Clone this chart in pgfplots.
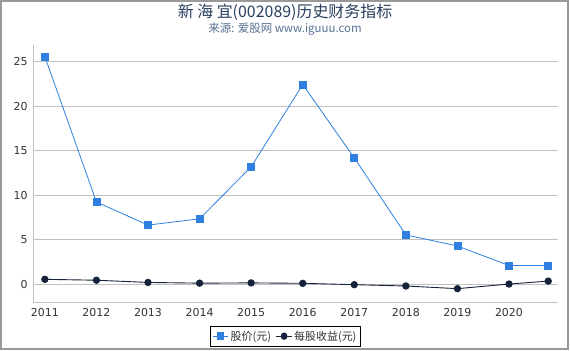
\documentclass[border=0pt]{standalone}
\usepackage{pgfplots}
\pgfplotsset{compat=1.18}
\usepackage{fontspec}
\setmainfont{DejaVu Sans}
\newfontfamily\cjk{Noto Sans CJK SC}
\definecolor{titlec}{HTML}{2A3F5F}
\definecolor{subc}{HTML}{5A7396}
\definecolor{priceC}{HTML}{2F80E0}
\definecolor{epsC}{HTML}{15233A}
\definecolor{gridc}{HTML}{C0C0C0}
\definecolor{tickc}{HTML}{333333}
\begin{document}
\begin{tikzpicture}[x=1bp,y=1bp]
\fill[white] (0,0) rectangle (570,350);
\draw[gray!80, line width=2bp] (1,1) rectangle (568,349);
\node[text=titlec, font=\fontsize{16}{18}\selectfont\cjk] at (285,338) {新 海 宜(002089)历史财务指标};
\node[text=subc, font=\fontsize{11.5}{13}\selectfont\cjk] at (285,321) {来源: 爱股网 www.iguuu.com};
\begin{axis}[
  at={(33bp,48bp)}, anchor=south west,
  scale only axis, width=525bp, height=257bp,
  xmin=2010.77, xmax=2020.95, ymin=-2, ymax=26.9,
  xtick={2011,...,2020},
  xticklabels={2011,2012,2013,2014,2015,2016,2017,2018,2019,2020},
  ytick={0,5,10,15,20,25},
  ymajorgrids, grid style={gridc, line width=0.8bp},
  axis x line*=bottom, axis y line*=left,
  axis line style={gridc, line width=0.8bp},
  major tick length=0pt,
  tick label style={text=tickc, font=\fontsize{11}{12}\selectfont},
  xticklabel style={yshift=-3bp},
  yticklabel style={xshift=-2bp},
  /pgf/number format/assume math mode=true,
  /pgf/number format/1000 sep={},
  legend style={at={(0.481,0)}, anchor=north, yshift=-24bp, draw=black, line width=0.6bp,
    font=\fontsize{11}{12}\selectfont\cjk, text=tickc, legend columns=2,
    inner xsep=2bp, inner ysep=2.5bp, /tikz/every even column/.append style={column sep=3bp}},
  legend image post style={xscale=0.9},
  legend cell align=left,
]
\addplot[color=priceC, line width=0.8bp, mark=square*, mark size=3.5bp, mark options={fill=priceC, draw=priceC}]
coordinates {(2011,25.6) (2012,9.25) (2013,6.65) (2014,7.35) (2015,13.2) (2016,22.45) (2017,14.2) (2018,5.55) (2019,4.3) (2020,2.1) (2020.76,2.1)};
\addlegendentry{股价(元)}
\addplot[color=epsC, line width=0.9bp, mark=*, mark size=3.2bp, mark options={fill=epsC, draw=epsC}]
coordinates {(2011,0.55) (2012,0.45) (2013,0.2) (2014,0.12) (2015,0.15) (2016,0.1) (2017,-0.05) (2018,-0.2) (2019,-0.5) (2020,0.02) (2020.76,0.35)};
\addlegendentry{每股收益(元)}
\end{axis}
\end{tikzpicture}
\end{document}
